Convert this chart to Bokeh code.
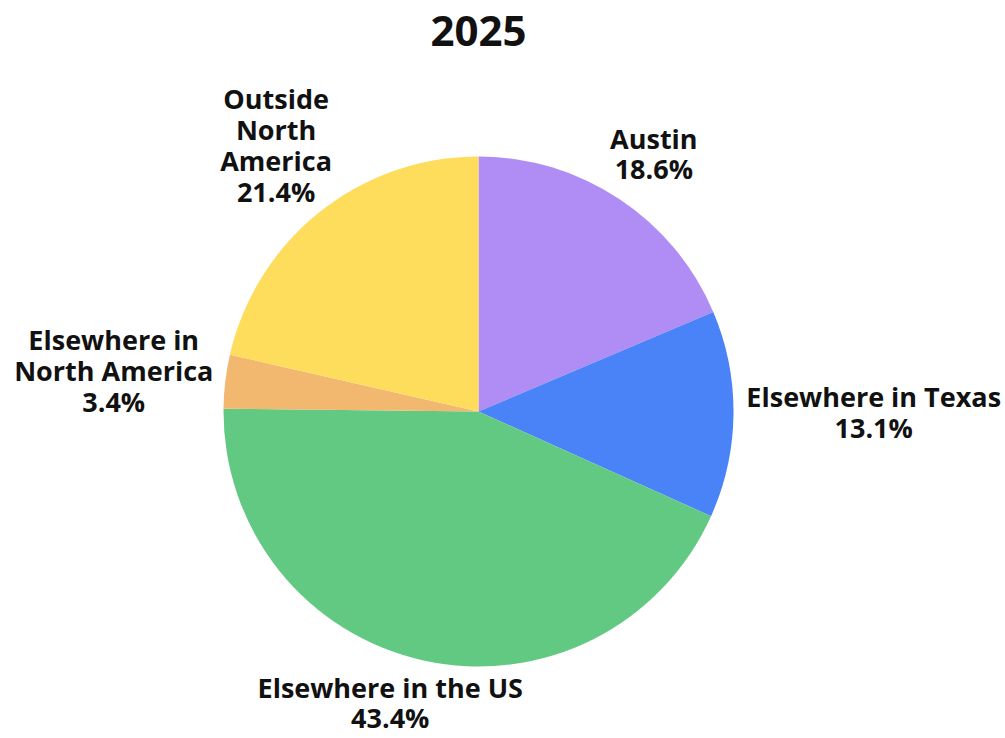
import math
from bokeh.plotting import figure
from bokeh.models import Range1d, ColumnDataSource
from bokeh.core.properties import value
from bokeh.embed import file_html
from bokeh.resources import INLINE

title = "2025"
categories = ["Austin", "Elsewhere in Texas", "Elsewhere in the US",
              "Elsewhere in North America", "Outside North America"]
label_lines = ["Austin", "Elsewhere in Texas", "Elsewhere in the US",
               "Elsewhere in\nNorth America", "Outside\nNorth\nAmerica"]
shares = [18.6, 13.1, 43.4, 3.4, 21.4]
colors = ["#B08DF5", "#4A82F7", "#62C983", "#F3B86F", "#FEDC5C"]

W, H = 1005, 738
p = figure(width=W, height=H, output_backend="svg", toolbar_location=None,
           x_range=Range1d(0, W), y_range=Range1d(0, H),
           min_border=0, border_fill_color="white", background_fill_color="white")
p.axis.visible = False
p.grid.visible = False
p.outline_line_color = None

# data y = 738 - page y
cx, cy, R = 478, 738 - 411, 255
total = sum(shares)
starts, ends, mids = [], [], []
cum = 0.0
for s in shares:
    a0 = 90 - cum / total * 360
    cum += s
    a1 = 90 - cum / total * 360
    starts.append(math.radians(a0))
    ends.append(math.radians(a1))
    mids.append(math.radians((a0 + a1) / 2))

src = ColumnDataSource(dict(start=starts, end=ends, color=colors, cat=categories))
p.wedge(x=cx, y=cy, radius=R, start_angle="start", end_angle="end",
        direction="clock", fill_color="color", line_color=None, source=src)

font = "Open Sans"
fs = 27
lh = 31
char_w = 14.2
lx, ly, texts = [], [], []
for name, s, m in zip(label_lines, shares, mids):
    txt = f"{name}\n{s:.1f}%"
    lines = txt.split("\n")
    w = max(len(l) for l in lines) * char_w
    h = len(lines) * lh
    ax = cx + 275 * math.cos(m)
    ay = cy + 275 * math.sin(m)
    x = ax + math.cos(m) * w / 2
    x = max(w / 2 + 4, min(x, W - w / 2 - 4))
    y = ay + math.sin(m) * h / 2 + 3
    y = max(h / 2 + 5, min(y, H - h / 2 - 5))
    lx.append(x)
    ly.append(y)
    texts.append(txt)

p.text(x=lx, y=ly, text=texts, text_align="center", text_baseline="middle",
       text_font=value(font), text_font_style="bold", text_font_size=f"{fs}px",
       text_line_height=0.83, text_color="#111111")

p.text(x=[478], y=[738 - 30], text=[title], text_align="center", text_baseline="middle",
       text_font=value(font), text_font_style="bold", text_font_size="42px",
       text_color="#111111")

open("out.html", "w").write(file_html(p, INLINE))
